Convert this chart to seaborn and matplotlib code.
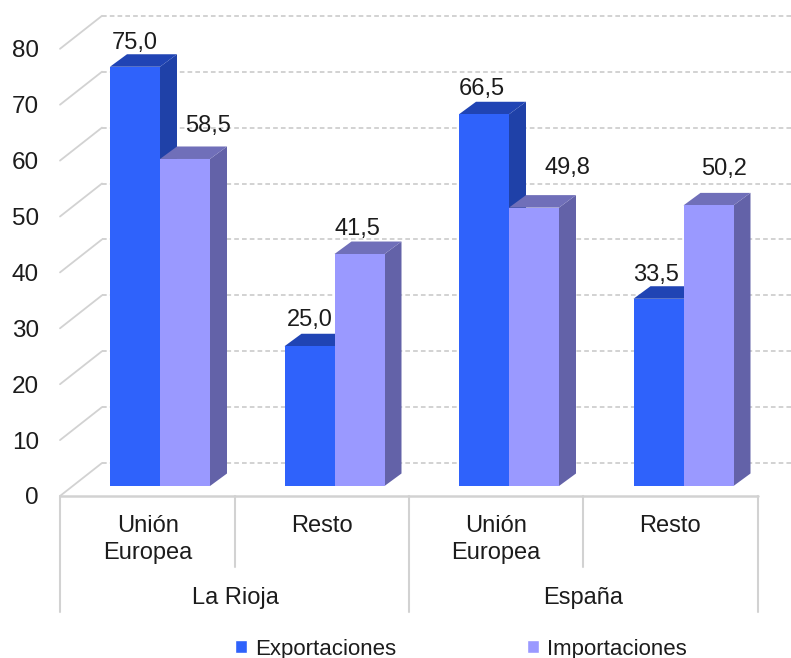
"""
plot.py
Comercio exterior: La Rioja y España, barras con falso 3D.
"""

import matplotlib
matplotlib.use('Agg')
import matplotlib.pyplot as plt
import pandas as pd
import seaborn as sns
from matplotlib.patches import Polygon

# ── Data ─────────────────────────────────────
regiones = ['La Rioja', 'España']
zonas = ['Unión\nEuropea', 'Resto']
grupos = ['La Rioja UE', 'La Rioja Resto', 'España UE', 'España Resto']
exportaciones = [75.0, 25.0, 66.5, 33.5]
importaciones = [58.5, 41.5, 49.8, 50.2]
y_ticks = [0, 10, 20, 30, 40, 50, 60, 70, 80]

# ── Layout, in reference pixels ──────────────
W, H = 791, 658
PX_PER_UNIT = 5.59
PX_PER_GROUP = 174.5
FIRST_CENTER = 160     # centre of the first pair of bars
FLOOR = 486            # bar front at value 0
AXIS_Y = 496
WALL_Y = 463
LEFT = 60
WALL_LEFT = 102
DEPTH_X, DEPTH_Y = 17, 12.5
GRID = '#d2d2d2'
TEXT = '#1c1c1c'

# manual label offsets (dx, dy above the bar front), as in the original
label_off = {
    'Exportaciones': [(0, 24), (0, 26), (-2, 25), (-2, 24)],
    'Importaciones': [(23, 33), (-2, 25), (33, 40), (16, 36)],
}
shades = {
    'Exportaciones': {'front': '#2f62fb', 'top': '#2044b4', 'side': '#1f41a8'},
    'Importaciones': {'front': '#9a99ff', 'top': '#706fb9', 'side': '#6362a8'},
}


def px_x(px):
    return (px - FIRST_CENTER) / PX_PER_GROUP


def px_y(px):
    return (FLOOR - px) / PX_PER_UNIT


sns.set_theme(style='white')
plt.rcParams['font.family'] = ['Liberation Sans', 'DejaVu Sans']

df = pd.DataFrame({
    'grupo': grupos * 2,
    'valor': exportaciones + importaciones,
    'serie': ['Exportaciones'] * 4 + ['Importaciones'] * 4,
})

fig = plt.figure(figsize=(W / 100, H / 100), dpi=100)
ax = fig.add_axes([0, 0, 1, 1])
sns.barplot(
    data=df, x='grupo', y='valor', hue='serie', ax=ax, order=grupos,
    palette={k: v['front'] for k, v in shades.items()},
    saturation=1, width=100 / PX_PER_GROUP, gap=0, legend=True,
)
ax.set_xlim(px_x(0), px_x(W))
ax.set_ylim(px_y(H), px_y(0))
ax.set_axis_off()

# ── Back wall and tick labels ────────────────
for v in y_ticks:
    wall = WALL_Y - v * PX_PER_UNIT
    front = AXIS_Y - v * PX_PER_UNIT
    ax.plot([px_x(WALL_LEFT), px_x(W + 10)], [px_y(wall)] * 2, color=GRID, lw=1.4,
            ls=(0, (2.4, 1.6)), zorder=1)
    ax.plot([px_x(LEFT), px_x(WALL_LEFT)], [px_y(front), px_y(wall)], color=GRID, lw=1.3,
            zorder=1)
    ax.text(px_x(39), px_y(front), str(v), ha='right', va='center_baseline',
            fontsize=17.5, color=TEXT)

# ── Category axis ────────────────────────────
ax.plot([px_x(LEFT), px_x(758)], [px_y(AXIS_Y)] * 2, color=GRID, lw=1.8, zorder=1)
for i, px in enumerate([60, 235, 409, 583, 758]):
    bottom = 567 if i % 2 else 612
    ax.plot([px_x(px)] * 2, [px_y(AXIS_Y), px_y(bottom)], color=GRID, lw=1.5, zorder=1)

for r, region in enumerate(regiones):
    ax.text(px_x(235 + r * 348), px_y(598), region, ha='center', va='center',
            fontsize=17, color=TEXT)
    for z, zona in enumerate(zonas):
        ax.text(px_x(148 + r * 348 + z * 174), px_y(515), zona, ha='center', va='top',
                fontsize=17, color=TEXT, linespacing=1.3)

# ── Bars: add depth to what seaborn drew ─────
dx = DEPTH_X / PX_PER_GROUP
dy = DEPTH_Y / PX_PER_UNIT
for s, (container, serie) in enumerate(zip(ax.containers, shades)):
    for i, bar in enumerate(container):
        bar.set_zorder(3 + 2 * s)
        bar.set_edgecolor('none')
        x0, x1, h = bar.get_x(), bar.get_x() + bar.get_width(), bar.get_height()
        ax.add_patch(Polygon([(x1, 0), (x1 + dx, dy), (x1 + dx, h + dy), (x1, h)],
                             fc=shades[serie]['side'], ec='none', zorder=2 + 2 * s))
        ax.add_patch(Polygon([(x0, h), (x0 + dx, h + dy), (x1 + dx, h + dy), (x1, h)],
                             fc=shades[serie]['top'], ec='none', zorder=2 + 2 * s))
        off_x, off_y = label_off[serie][i]
        ax.text((x0 + x1) / 2 + off_x / PX_PER_GROUP, h + off_y / PX_PER_UNIT,
                f'{h:.1f}'.replace('.', ','), ha='center', va='center',
                fontsize=17, color=TEXT, zorder=8)

# ── Legend ───────────────────────────────────
ax.legend(
    loc='center', bbox_to_anchor=(461 / W, 1 - 649 / H), ncol=2, frameon=False,
    title=None, fontsize=16, labelcolor=TEXT, handlelength=0.55, handleheight=0.55,
    handletextpad=0.35, columnspacing=5.9, borderpad=0, borderaxespad=0,
)

fig.savefig('out.png', dpi=100)
plt.close(fig)
